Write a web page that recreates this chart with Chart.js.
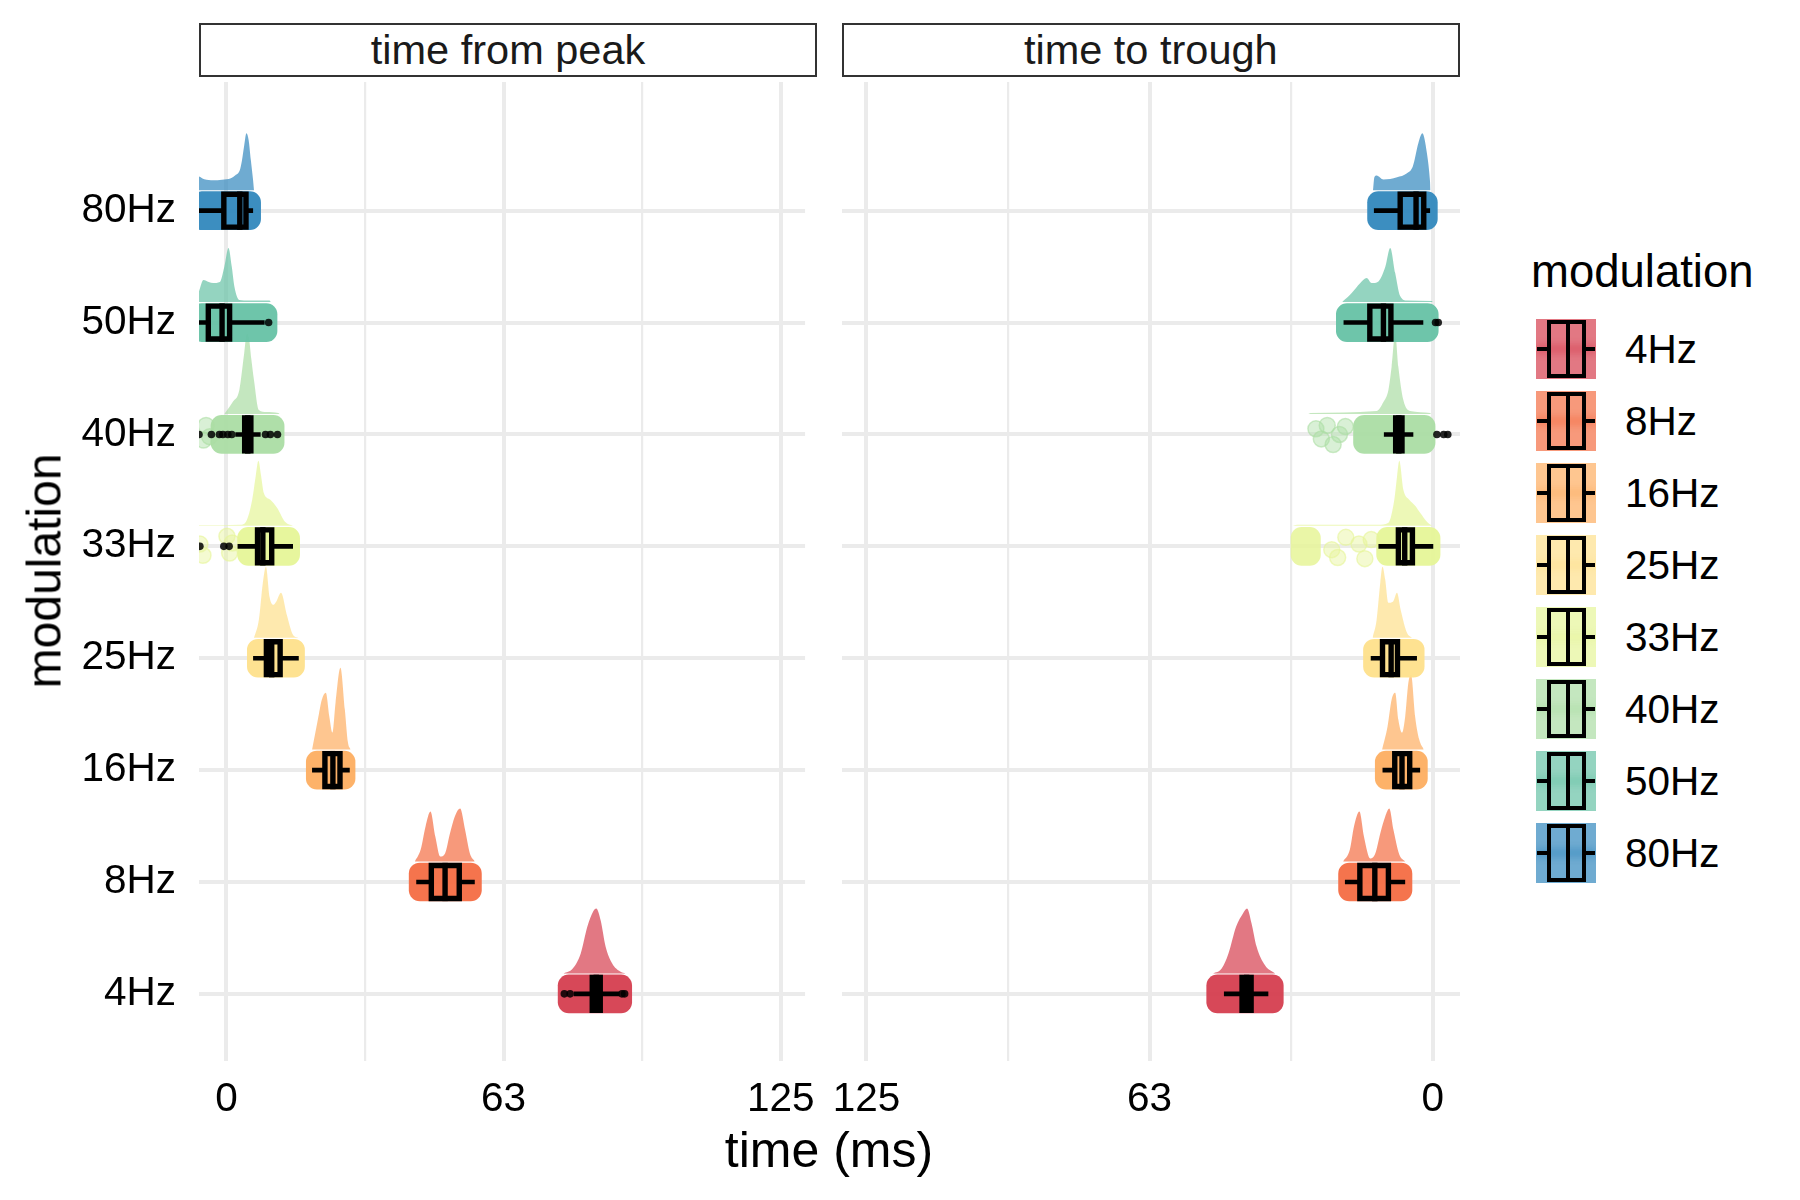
<!DOCTYPE html>
<html>
<head>
<meta charset="utf-8">
<script src="https://cdn.jsdelivr.net/npm/chart.js@4.4.1/dist/chart.umd.min.js"></script>
<style>
html,body{margin:0;padding:0;background:#fff;}
body{width:1800px;height:1200px;position:relative;overflow:hidden;font-family:'Liberation Sans',Arial,Helvetica,sans-serif;color:#000;}
canvas{position:absolute;top:0;}
.strip{position:absolute;top:23px;height:54px;box-sizing:border-box;border:2px solid #333;background:#fff;font-size:41.5px;line-height:50px;text-align:center;color:#1a1a1a;white-space:nowrap;}
.title{position:absolute;white-space:nowrap;color:#000;}
.key{position:absolute;left:1536px;width:60px;height:60px;overflow:hidden;}
.key div{position:absolute;}
.lab{position:absolute;left:1625px;font-size:40.5px;line-height:46px;white-space:nowrap;}
</style>
</head>
<body>
<canvas id="cPeak" style="left:0px" width="830" height="1140"></canvas>
<canvas id="cTrough" style="left:830px" width="640" height="1140"></canvas>
<div id="overlay"></div>
<script>
// ---------------- DATA ----------------
const categories = ['4Hz','8Hz','16Hz','25Hz','33Hz','40Hz','50Hz','80Hz'];
const palette = ['#D53E4F','#F46D43','#FDAE61','#FEE08B','#E6F598','#ABDDA4','#66C2A5','#3288BD'];
const panelTitles = ['time from peak','time to trough'];
const xTickValues = [0, 62.5, 125];
const xTickLabels = ['0', '63', '125'];
const xMinorTicks = [31.25, 93.75];
const axisTitleX = 'time (ms)';
const axisTitleY = 'modulation';
const legendTitle = 'modulation';

// time from peak (ms)
const peakQ1     = [82.5, 46.2, 22.2,  9.0,  7.0, 4.1, -4.1, -0.6];
const peakMedian = [83.4, 49.3, 24.0, 10.2,  8.2, 4.8, -1.0,  3.0];
const peakQ3     = [84.3, 52.5, 25.6, 12.1, 10.2, 5.5,  0.7,  4.4];
const peakWhiskerLow  = [78.3, 42.8, 19.3,  6.0,  2.5, 2.0, -8.0, -8.0];
const peakWhiskerHigh = [88.7, 56.0, 27.8, 16.3, 15.0, 7.7,  8.6,  6.0];
const peakPointMin = [74.8, 41.2, 18.0,  4.7,  2.5, -3.5, -8.0, -8.0];
const peakPointMax = [91.4, 57.5, 29.0, 17.6, 16.5, 13.0, 11.4,  7.7];
const peakClusterMin = [null, null, null, null, null, null, null, null];
const peakClusterMax = [null, null, null, null, null, null, null, null];
const peakOutliers = [[76.2, 77.5, 89.2, 89.8], [], [], [], [-6.0, -0.6, 0.6],
  [-6.2, -3.4, -1.6, -0.8, 0.3, 1.2, 8.8, 9.9, 11.5], [9.5], []];
const peakSparseX  = [[], [], [], [], [-6.0, -5.3, 0.1, 0.7, 1.3], [-5.2, -4.6, -3.8], [], []];
const peakSparseDy = [[], [], [], [], [0.02, -0.08, 0.09, -0.06, 0.03], [-0.05, 0.08, -0.02], [], []];
const peakDensityX = [
  [76, 78.1, 79.9, 81.4, 82.7, 83.4, 84.4, 85.5, 87, 88.8, 90],
  [42.5, 43.8, 44.9, 46, 47.1, 48.2, 49.3, 50.4, 51.5, 52.7, 53.8, 54.9, 56],
  [19.3, 20.6, 21.5, 22.4, 23.2, 23.9, 24.6, 25.7, 26.7, 27.4, 28],
  [6.2, 7.3, 8.2, 8.9, 9.7, 10.6, 11.2, 12.3, 13.6, 15, 16.2],
  [-7, 3.2, 4.4, 5.8, 6.6, 7.2, 7.8, 8.4, 9.9, 11.4, 13.2, 15],
  [-0.5, 0, 1.4, 2.9, 4.0, 4.6, 5.1, 5.6, 6.2, 7.3, 9, 11.7, 12],
  [-8, -6.4, -5.2, -4, -3, -1.5, -0.5, 0.45, 1.2, 1.8, 2.9, 5, 9.7, 10],
  [-8, -6.5, -5, -3, -1, 1, 2, 3, 3.5, 4, 4.5, 5, 5.5, 6, 6.2]
];
const peakDensity = [
  [0, 5, 20, 47, 62, 65, 53, 27, 10, 2, 0],
  [0, 12, 35, 50, 25, 5, 8, 28, 45, 53, 32, 8, 0],
  [0, 30, 50, 57, 33, 17, 47, 82, 40, 7, 0],
  [0, 18, 55, 71, 41, 33, 36, 45, 23, 3, 0],
  [0.5, 1, 4, 26, 50, 65, 50, 33, 26, 18, 4, 0],
  [0, 3, 12, 24, 61, 80, 75, 55, 34, 4, 2, 1, 0],
  [6, 9, 22, 20, 19, 20, 35, 54, 35, 15, 2, 1.5, 1.5, 0],
  [13, 14, 11, 10, 10.5, 12, 15, 20, 30, 45, 57, 50, 30, 10, 0]
];

// time to trough (ms)
const troughQ1     = [40.1,  9.8,  5.1,  7.8,  4.5, 6.8,  9.25, 2.0];
const troughMedian = [41.1, 12.8,  6.8,  9.2,  6.2, 7.5, 10.9,  3.7];
const troughQ3     = [42.1, 16.1,  8.4, 11.1,  7.6, 8.2, 13.9,  7.2];
const troughWhiskerLow  = [36.3,  6.1,  2.8,  3.5, -0.1,  4.3,  2.1,  0.6];
const troughWhiskerHigh = [46.1, 19.4, 11.1, 13.7, 12.0, 10.8, 19.7, 13.0];
const troughPointMin = [33.0,  4.6,  1.2,  1.9, -1.6, -0.5, -1.2, -1.0];
const troughPointMax = [49.9, 20.8, 12.7, 15.3, 12.4, 17.5, 21.3, 14.4];
const troughClusterMin = [null, null, null, null, 24.8, null, null, null];
const troughClusterMax = [null, null, null, null, 31.3, null, null, null];
const troughOutliers = [[], [], [], [], [], [-0.9, -2.4, -3.3], [-0.6, -1.2], []];
const troughSparseX  = [[], [], [], [], [22.3, 21.0, 19.2, 16.3, 15.0, 13.6], [25.8, 24.6, 23.3, 22.0, 20.6, 19.3], [], []];
const troughSparseDy = [[], [], [], [], [-0.03, -0.1, 0.08, 0.02, -0.11, 0.06], [0.05, -0.04, 0.08, -0.09, 0.0, 0.07], [], []];
const troughDensityX = [
  [34.8, 37.0, 38.9, 40.0, 41.0, 41.9, 43.4, 45.1, 46.6, 48.5],
  [6.1, 7.4, 8.7, 9.6, 10.5, 11.6, 12.7, 13.8, 15.2, 16.2, 17.4, 18.3, 19.8],
  [2.0, 3.0, 3.9, 4.8, 5.4, 6.1, 6.8, 7.6, 8.3, 9.1, 10.0, 11.2],
  [4.6, 5.7, 7.1, 7.9, 8.8, 9.8, 10.5, 11.1, 11.6, 12.4, 13.3],
  [0.2, 1.3, 2.8, 3.9, 5.2, 6.5, 7.4, 7.9, 8.5, 9.8, 12, 30, 31],
  [0.4, 0.6, 5.0, 6.5, 7.6, 8.3, 9.1, 9.8, 10.9, 12.4, 27, 27.5],
  [0, 0.2, 5.7, 7.2, 8.3, 9.4, 10.5, 12.0, 13.5, 14.6, 16.0, 17.9, 20],
  [0.5, 0.6, 1.3, 2.3, 3.2, 4.4, 5.7, 7.9, 10.9, 12.4, 12.9, 13.2]
];
const troughDensity = [
  [0, 8, 27, 50, 65, 60, 47, 20, 5, 0],
  [0, 7, 32, 53, 45, 28, 8, 3, 25, 50, 35, 12, 0],
  [0, 10, 33, 75, 67, 33, 17, 30, 57, 50, 23, 0],
  [0, 5, 28, 45, 36, 35, 58, 71, 55, 18, 0],
  [0, 4, 13, 20, 26, 36, 65, 49, 26, 3, 1, 1, 0],
  [0, 1, 3, 14, 47, 80, 47, 24, 12, 3, 1, 0],
  [0, 1, 1.5, 6, 29, 54, 35, 20.7, 19, 24, 19, 9, 0],
  [0, 8, 37, 57, 47, 24, 17, 13, 10.7, 14.7, 13, 0]
];

// ---------------- STYLE / LAYOUT ----------------
const FONT_FAMILY = "'Liberation Sans', Arial, Helvetica, sans-serif";
const SMALL = 40.5;
const GRID = '#EBEBEB';
const Y_MIN = 0.4, Y_MAX = 9.15;
const DENS_OFFSET = 0.183;     // baseline of half-density above category line (y units)
const DENS_SCALE = 1 / 111.9;  // density units -> y units
const BOX_HALF = 0.147;
const LW_BOX = 5.4;
const LW_WHISKER = 4.6;

function rgba(hex, a) {
  const n = parseInt(hex.slice(1), 16);
  return `rgba(${(n >> 16) & 255},${(n >> 8) & 255},${n & 255},${a})`;
}

function buildDatasets(p) {
  const ds = [];
  const barData = [], barColors = [];
  categories.forEach((cat, i) => {
    const c = i + 1;
    const col = palette[i];
    const base = c + DENS_OFFSET;
    ds.push({
      type: 'line', order: 6, clip: 0,
      data: p.densX[i].map((x, k) => ({x, y: base + p.dens[i][k] * DENS_SCALE})),
      fill: {value: base}, backgroundColor: rgba(col, 0.7),
      borderWidth: 0, borderColor: 'rgba(0,0,0,0)', pointRadius: 0,
      cubicInterpolationMode: 'monotone'
    });
    barData.push({y: c, x: [p.ptMin[i], p.ptMax[i]]});
    barColors.push(rgba(col, 0.95));
    if (p.clMin[i] !== null) {
      barData.push({y: c, x: [p.clMin[i], p.clMax[i]]});
      barColors.push(rgba(col, 0.85));
    }
    if (p.spX[i].length) {
      ds.push({
        type: 'line', order: 4, clip: 0, showLine: false,
        data: p.spX[i].map((x, k) => ({x, y: c + p.spDy[i][k]})),
        pointRadius: 8, pointBackgroundColor: rgba(col, 0.45),
        pointBorderColor: rgba(col, 0.6), pointBorderWidth: 1.5
      });
    }
    ds.push({
      type: 'line', order: 3, clip: 0, spanGaps: false,
      data: [{x: p.wLo[i], y: c}, {x: p.q1[i], y: c}, {x: p.q1[i], y: null},
             {x: p.q3[i], y: c}, {x: p.wHi[i], y: c}],
      borderColor: '#000', borderWidth: LW_WHISKER, pointRadius: 0, fill: false
    });
    ds.push({
      type: 'line', order: 2, clip: 0,
      data: [{x: p.q1[i], y: c - BOX_HALF}, {x: p.q3[i], y: c - BOX_HALF},
             {x: p.q3[i], y: c + BOX_HALF}, {x: p.q1[i], y: c + BOX_HALF},
             {x: p.q1[i], y: c - BOX_HALF}],
      borderColor: '#000', borderWidth: LW_BOX, pointRadius: 0, fill: false,
      borderJoinStyle: 'miter', borderCapStyle: 'square'
    });
    ds.push({
      type: 'line', order: 1, clip: 0,
      data: [{x: p.med[i], y: c - BOX_HALF}, {x: p.med[i], y: c + BOX_HALF}],
      borderColor: '#000', borderWidth: LW_BOX, pointRadius: 0, fill: false,
      borderCapStyle: 'square'
    });
    if (p.out[i].length) {
      ds.push({
        type: 'line', order: 0, clip: 0, showLine: false,
        data: p.out[i].map(x => ({x, y: c})),
        pointRadius: 3.8, pointBackgroundColor: 'rgba(0,0,0,0.85)', pointBorderWidth: 0
      });
    }
  });
  ds.push({
    type: 'bar', indexAxis: 'y', order: 5, clip: 0,
    data: barData, backgroundColor: barColors,
    borderWidth: 0, borderRadius: 11, borderSkipped: false,
    grouped: false, maxBarThickness: 38, barPercentage: 1, categoryPercentage: 1
  });
  return ds;
}

function tickLabel(v) {
  const k = xTickValues.findIndex(t => Math.abs(t - v) < 1e-6);
  return k >= 0 ? xTickLabels[k] : '';
}
function isMajor(v) { return xTickValues.some(t => Math.abs(t - v) < 1e-6); }

function makePanel(id, p, opts) {
  const font = {family: FONT_FAMILY, size: SMALL};
  return new Chart(document.getElementById(id), {
    type: 'line',
    data: {datasets: buildDatasets(p)},
    options: {
      responsive: false, animation: false, devicePixelRatio: 1, events: [],
      layout: {padding: opts.padding},
      plugins: {legend: {display: false}, tooltip: {enabled: false}},
      scales: {
        x: {
          type: 'linear', min: opts.xMin, max: opts.xMax, reverse: opts.reverse, offset: false,
          afterBuildTicks: s => { s.ticks = xTickValues.concat(xMinorTicks).sort((a, b) => a - b).map(v => ({value: v})); },
          afterFit: s => { s.height = 79; },
          ticks: {autoSkip: false, maxRotation: 0, minRotation: 0, padding: 15, font, color: '#000', callback: v => tickLabel(v)},
          grid: {offset: false, color: GRID, lineWidth: ctx => (ctx.tick && isMajor(ctx.tick.value)) ? 4 : 2.2, drawTicks: false},
          border: {display: false}
        },
        y: {
          type: 'linear', min: Y_MIN, max: Y_MAX, offset: false,
          afterBuildTicks: s => { s.ticks = categories.map((_, i) => ({value: i + 1})); },
          afterFit: s => { s.width = opts.yWidth; },
          ticks: {display: opts.showY, padding: 23, font, color: '#000', callback: v => categories[Math.round(v) - 1]},
          grid: {offset: false, color: GRID, lineWidth: 4, drawTicks: false},
          border: {display: false}
        }
      }
    }
  });
}

makePanel('cPeak', {
  q1: peakQ1, med: peakMedian, q3: peakQ3, wLo: peakWhiskerLow, wHi: peakWhiskerHigh,
  ptMin: peakPointMin, ptMax: peakPointMax, clMin: peakClusterMin, clMax: peakClusterMax,
  out: peakOutliers, spX: peakSparseX, spDy: peakSparseDy, densX: peakDensityX, dens: peakDensity
}, {xMin: -6.2, xMax: 130.5, reverse: false, showY: true, yWidth: 199,
    padding: {top: 82, right: 13, left: 0, bottom: 0}});

makePanel('cTrough', {
  q1: troughQ1, med: troughMedian, q3: troughQ3, wLo: troughWhiskerLow, wHi: troughWhiskerHigh,
  ptMin: troughPointMin, ptMax: troughPointMax, clMin: troughClusterMin, clMax: troughClusterMax,
  out: troughOutliers, spX: troughSparseX, spDy: troughSparseDy, densX: troughDensityX, dens: troughDensity
}, {xMin: -6.0, xMax: 130.5, reverse: true, showY: false, yWidth: 0,
    padding: {top: 82, right: 10, left: 11.5, bottom: 0}});

// ---------------- TEXT / LEGEND ----------------
const ov = document.getElementById('overlay');
function add(html) { ov.insertAdjacentHTML('beforeend', html); }
add(`<div class="strip" style="left:199px;width:618px">${panelTitles[0]}</div>`);
add(`<div class="strip" style="left:841.5px;width:618.5px">${panelTitles[1]}</div>`);
add(`<div class="title" style="font-size:50px;left:829px;top:1150px;transform:translate(-50%,-50%)">${axisTitleX}</div>`);
add(`<div class="title" style="font-size:48px;left:44px;top:571px;transform:translate(-50%,-50%) rotate(-90deg)">${axisTitleY}</div>`);
add(`<div class="title" style="font-size:45.5px;left:1531px;top:272px;transform:translateY(-50%)">${legendTitle}</div>`);
categories.forEach((cat, i) => {
  const cy = 349 + i * 72;
  const col = palette[i];
  add(`<div class="key" style="top:${cy - 30}px;background:${rgba(col, 0.7)}">
    <div style="left:0;top:25px;width:60px;height:10px;background:${rgba(col, 0.45)};filter:blur(3px)"></div>
    <div style="left:1px;top:28px;width:11px;height:4px;background:#000"></div>
    <div style="left:49px;top:28px;width:10px;height:4px;background:#000"></div>
    <div style="left:11px;top:1px;width:39px;height:58px;box-sizing:border-box;border:4px solid #000"></div>
    <div style="left:30px;top:1px;width:4px;height:58px;background:#000"></div>
  </div>`);
  add(`<div class="lab" style="top:${cy - 23}px">${cat}</div>`);
});
</script>
</body>
</html>
